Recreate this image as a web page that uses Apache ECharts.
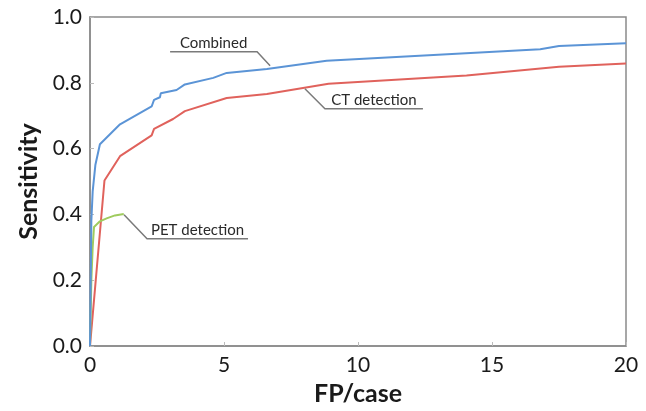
<!DOCTYPE html>
<html><head><meta charset="utf-8">
<script src="https://cdn.jsdelivr.net/npm/echarts@6/dist/echarts.min.js"></script>
<style>html,body{margin:0;padding:0;background:#fff}#c{width:646px;height:411px}</style>
</head><body><div id="c"></div>
<script>
const xTicks = [0, 5, 10, 15, 20];
const yTicks = [0, 0.2, 0.4, 0.6, 0.8, 1.0];
const combinedX = [0, 0.05, 0.1, 0.2, 0.37, 1.12, 2.3, 2.39, 2.61, 2.64, 3.23, 3.54, 4.6, 5.1, 6.6, 8.83, 16.8, 17.5, 20];
const combinedY = [0, 0.38, 0.47, 0.55, 0.613, 0.674, 0.728, 0.748, 0.756, 0.768, 0.778, 0.795, 0.815, 0.830, 0.842, 0.867, 0.902, 0.912, 0.920];
const ctX = [0, 0.54, 1.12, 2.3, 2.39, 3.1, 3.54, 5.1, 6.6, 8.9, 14.05, 17.5, 20];
const ctY = [0, 0.503, 0.577, 0.640, 0.660, 0.690, 0.714, 0.754, 0.766, 0.797, 0.822, 0.849, 0.859];
const petX = [0, 0.05, 0.1, 0.15, 0.22, 0.37, 0.62, 0.93, 1.26];
const petY = [0, 0.2, 0.3, 0.362, 0.366, 0.379, 0.388, 0.397, 0.401];
const labels = ['Combined', 'CT detection', 'PET detection'];
const anchors = [[6.72, 0.852], [8.02, 0.782], [1.27, 0.399]];

const zip = (xs, ys) => xs.map((x, i) => [x, ys[i]]);
const chart = echarts.init(document.getElementById('c'), null, {renderer: 'canvas'});
const font = 'Lato, "Open Sans", sans-serif';
chart.setOption({
  animation: false,
  grid: {left: 90, top: 17, right: 20, bottom: 64, show: true, borderColor: '#8a8a8a', borderWidth: 1.5},
  xAxis: {
    type: 'value', min: 0, max: 20, interval: 5,
    name: 'FP/case', nameLocation: 'middle', nameGap: 35,
    nameTextStyle: {fontFamily: font, fontSize: 25, fontWeight: 'bold', color: '#1a1a1a'},
    axisLine: {show: true, lineStyle: {color: '#8a8a8a', width: 1.5}},
    axisTick: {show: true, inside: true, length: 4, lineStyle: {color: '#bbb'}},
    splitLine: {show: false},
    axisLabel: {fontFamily: font, fontSize: 21, color: '#1a1a1a', margin: 9, formatter: v => xTicks.includes(v) ? String(v) : ''}
  },
  yAxis: {
    type: 'value', min: 0, max: 1, interval: 0.2,
    name: 'Sensitivity', nameLocation: 'middle', nameGap: 48,
    nameTextStyle: {fontFamily: font, fontSize: 25, fontWeight: 'bold', color: '#1a1a1a'},
    axisLine: {show: true, lineStyle: {color: '#8a8a8a', width: 1.5}},
    axisTick: {show: true, inside: true, length: 4, lineStyle: {color: '#bbb'}},
    splitLine: {show: false},
    axisLabel: {fontFamily: font, fontSize: 21, color: '#1a1a1a', margin: 8, formatter: v => yTicks.some(t => Math.abs(t - v) < 1e-9) ? v.toFixed(1) : ''}
  },
  series: [
    {name: labels[0], type: 'line', data: zip(combinedX, combinedY), showSymbol: false, lineStyle: {color: '#5b94d6', width: 2}, z: 3},
    {name: labels[1], type: 'line', data: zip(ctX, ctY), showSymbol: false, lineStyle: {color: '#e0625c', width: 2}, z: 2},
    {name: labels[2], type: 'line', data: zip(petX, petY), showSymbol: false, lineStyle: {color: '#9fcb5e', width: 2}, z: 2}
  ]
});

const leaders = [
  {bend: [-13, -14], len: -87},
  {bend: [20, 20], len: 98},
  {bend: [23, 24], len: 101}
];
const g = [];
anchors.forEach((a, i) => {
  const p = chart.convertToPixel({gridIndex: 0}, a);
  const b = [p[0] + leaders[i].bend[0], p[1] + leaders[i].bend[1]];
  const e = [b[0] + leaders[i].len, b[1]];
  g.push({type: 'polyline', shape: {points: [p, b, e]}, style: {stroke: '#7a7a7a', lineWidth: 1.5, fill: null}, z: 10});
  const cx = (b[0] + e[0]) / 2;
  g.push({type: 'text', x: cx, y: b[1] - 1, style: {text: labels[i], fontFamily: font, fontSize: 15, fill: '#2a2a2a', align: 'center', verticalAlign: 'bottom'}, z: 10});
});
chart.setOption({graphic: g});
</script></body></html>
